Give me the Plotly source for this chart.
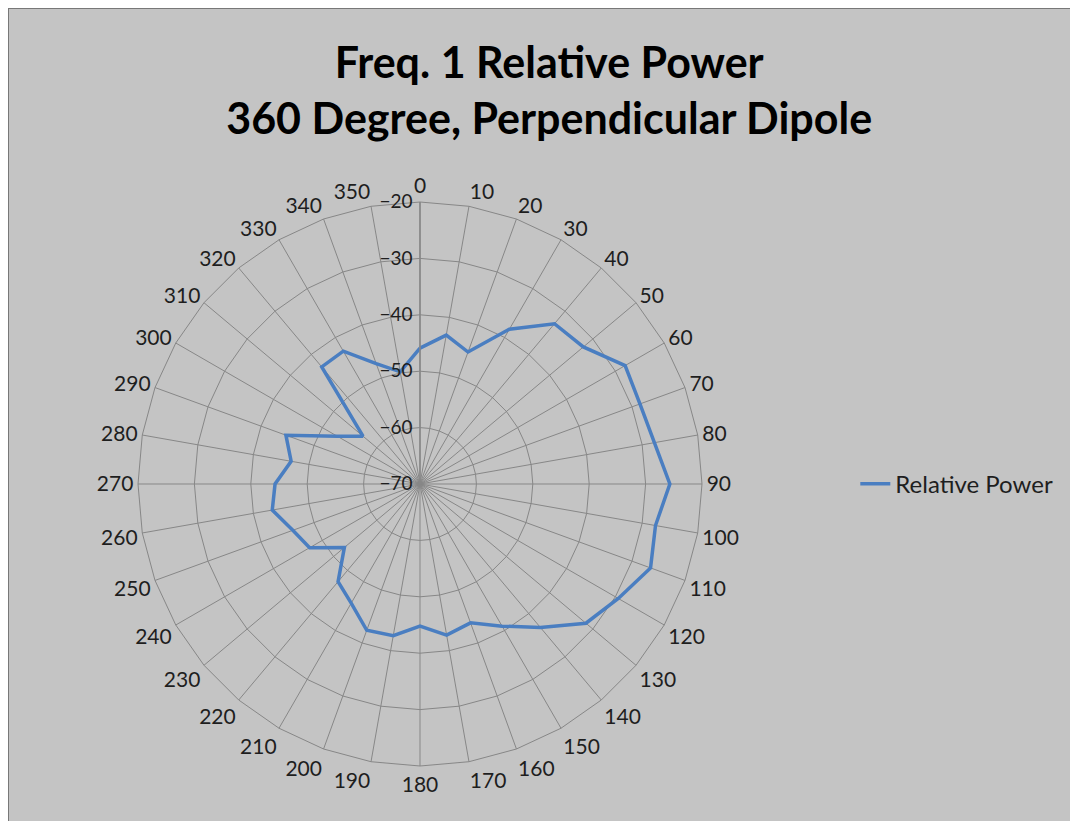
import plotly.graph_objects as go

# angle categories (degrees) and relative power readings (dB)
angles = [str(a) for a in range(0, 360, 10)]
power = [-45.9, -43.2, -45.1, -38.3, -32.9, -32.2, -28.0, -28.5, -27.8,
         -25.7, -27.6, -26.5, -29.4, -31.6, -36.8, -40.9, -43.8, -42.8,
         -44.8, -42.7, -42.4, -45.6, -47.4, -52.5, -47.4, -46.0, -43.4,
         -44.3, -46.8, -44.7, -53.1, -56.8, -42.9, -42.8, -47.3, -49.8]
radial_ticks = [-70, -60, -50, -40, -30, -20]

bg = "rgb(196,196,196)"
grid = "rgb(135,135,135)"
font_family = "Lato, 'Open Sans', sans-serif"

W, H = 1078, 821

fig = go.Figure()
fig.add_trace(go.Scatterpolar(
    r=power + power[:1],
    theta=angles + angles[:1],
    mode="lines",
    name="Relative Power",
    line=dict(color="rgb(74,126,193)", width=3.5),
))

fig.update_layout(
    width=W, height=H,
    paper_bgcolor=bg,
    plot_bgcolor=bg,
    margin=dict(l=0, r=0, t=0, b=0),
    font=dict(family=font_family, color="rgb(30,30,30)", size=21),
    title=dict(
        text="<b>Freq. 1 Relative Power<br>360 Degree, Perpendicular Dipole</b>",
        x=0.502, xanchor="center", y=0.915, yanchor="top",
        font=dict(size=43, color="black"),
    ),
    showlegend=True,
    legend=dict(x=0.786, y=0.42, xanchor="left", yanchor="middle",
                bgcolor="rgba(0,0,0,0)", font=dict(size=24)),
    shapes=[dict(type="rect", xref="paper", yref="paper", x0=0, y0=0, x1=1, y1=1,
                 line=dict(color="rgb(120,120,120)", width=2), layer="above")],
    polar=dict(
        domain=dict(x=[130 / W, 694 / W], y=[63 / H, 627 / H]),
        bgcolor=bg,
        gridshape="linear",
        angularaxis=dict(
            rotation=90, direction="clockwise", type="category",
            categoryorder="array", categoryarray=angles,
            showline=True, linecolor=grid, linewidth=1,
            gridcolor=grid, gridwidth=1,
            ticks="", tickfont=dict(size=21),
        ),
        radialaxis=dict(
            range=[-70, -20], tickvals=radial_ticks,
            angle=90, tickangle=90, side="counterclockwise",
            showline=True, linecolor=grid, linewidth=1.5,
            gridcolor=grid, gridwidth=1,
            ticks="", tickfont=dict(size=19),
        ),
    ),
)

fig.write_html("out.html")
